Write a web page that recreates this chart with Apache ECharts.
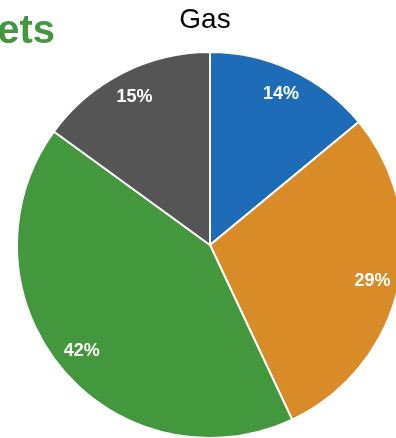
<!DOCTYPE html>
<html>
<head>
<meta charset="utf-8">
<script src="https://cdn.jsdelivr.net/npm/echarts@6/dist/echarts.min.js"></script>
<style>
  html, body { margin: 0; padding: 0; background: #ffffff; }
  #chart { width: 396px; height: 438px; }
</style>
</head>
<body>
<div id="chart"></div>
<script>
// Fuel shares for the gas pie, clockwise from 12 o'clock
const categories = ['Blue', 'Orange', 'Green', 'Grey'];
const shares = [14, 29, 42, 15];
const sliceColors = ['#1e6cb7', '#d98b27', '#43973d', '#555555'];
const chartTitle = 'Gas';
const headingFragment = 'ets';

const chart = echarts.init(document.getElementById('chart'), null, { renderer: 'canvas' });

const pieData = categories.map((name, i) => ({
  name: name,
  value: shares[i],
  itemStyle: { color: sliceColors[i] }
}));

chart.setOption({
  animation: false,
  graphic: [
    {
      type: 'text',
      x: 205,
      y: 20,
      style: {
        text: chartTitle,
        font: '28px "Liberation Sans", Arial, sans-serif',
        fill: '#000000',
        textAlign: 'center',
        textVerticalAlign: 'middle'
      }
    },
    {
      type: 'text',
      x: 55,
      y: 32,
      style: {
        text: headingFragment,
        font: 'bold 40px "Liberation Sans", Arial, sans-serif',
        fill: '#43973d',
        textAlign: 'right',
        textVerticalAlign: 'middle'
      }
    }
  ],
  series: [
    {
      type: 'pie',
      center: [210, 245],
      radius: [0, 193],
      startAngle: 90,
      clockwise: true,
      label: { show: false },
      labelLine: { show: false },
      emphasis: { disabled: true },
      itemStyle: { borderColor: '#ffffff', borderWidth: 2 },
      data: pieData
    },
    {
      // label ring: places the percentages near the outer rim
      type: 'pie',
      center: [210, 245],
      radius: [134, 193],
      startAngle: 90,
      clockwise: true,
      silent: true,
      emphasis: { disabled: true },
      itemStyle: { color: 'rgba(0,0,0,0)', borderWidth: 0 },
      label: {
        show: true,
        position: 'inside',
        formatter: (p) => p.value + '%',
        color: '#ffffff',
        fontWeight: 'bold',
        fontSize: 18,
        fontFamily: '"Liberation Sans", Arial, sans-serif'
      },
      labelLine: { show: false },
      data: categories.map((name, i) => ({ name: name, value: shares[i] }))
    }
  ]
});
</script>
</body>
</html>
